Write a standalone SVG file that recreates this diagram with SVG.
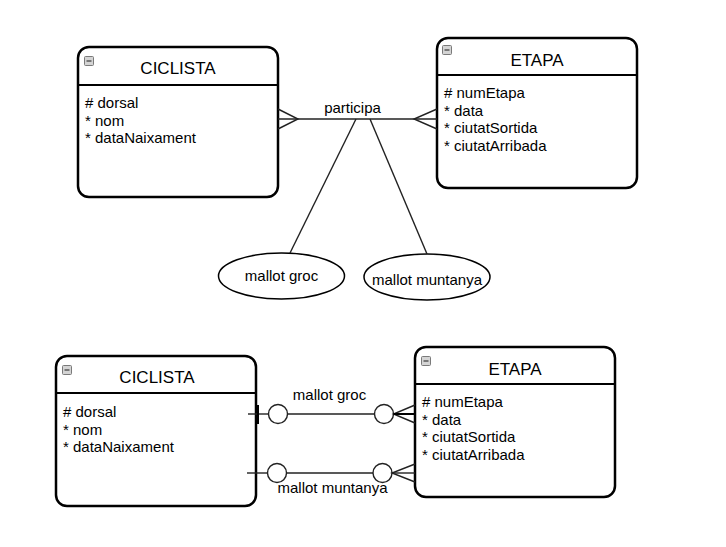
<svg xmlns="http://www.w3.org/2000/svg" width="726" height="547" viewBox="0 0 726 547">
<defs>
<style>
.box{fill:#fff;stroke:#000;stroke-width:2.5}
.hdr{stroke:#000;stroke-width:2}
.title{font-family:"Liberation Sans",Arial,sans-serif;font-size:17px;fill:#000;text-anchor:middle}
.attr{font-family:"Liberation Sans",Arial,sans-serif;font-size:15px;fill:#000}
.lbl{font-family:"Liberation Sans",Arial,sans-serif;font-size:15px;fill:#000;text-anchor:middle}
.ln{fill:none;stroke:#222;stroke-width:1.4}
.circ{fill:#fff;stroke:#222;stroke-width:1.4}
.ell{fill:#fff;stroke:#000;stroke-width:1.5}
.icon{fill:#d4d4d4;stroke:#7a7a7a;stroke-width:1}
.minus{stroke:#444;stroke-width:1.3}
</style>
<g id="mini">
<rect class="icon" x="0.5" y="0.5" width="9" height="9" rx="1"/>
<line class="minus" x1="2.5" y1="5" x2="7.5" y2="5"/>
</g>
</defs>

<g id="ciclista1">
<rect class="box" x="78" y="47" width="200" height="150" rx="11"/>
<line class="hdr" x1="78" y1="85" x2="278" y2="85"/>
<use href="#mini" x="84" y="56"/>
<text class="title" x="178" y="74">CICLISTA</text>
<text class="attr">
<tspan x="85" y="108"># dorsal</tspan>
<tspan x="85" y="125.5">* nom</tspan>
<tspan x="85" y="143">* dataNaixament</tspan>
</text>
</g>

<g id="etapa1">
<rect class="box" x="437" y="38" width="200" height="150" rx="11"/>
<line class="hdr" x1="437" y1="75" x2="637" y2="75"/>
<use href="#mini" x="442" y="45"/>
<text class="title" x="537" y="66">ETAPA</text>
<text class="attr">
<tspan x="444" y="98"># numEtapa</tspan>
<tspan x="444" y="115.5">* data</tspan>
<tspan x="444" y="133">* ciutatSortida</tspan>
<tspan x="444" y="150.5">* ciutatArribada</tspan>
</text>
</g>

<g id="mallotgroc">
<ellipse class="ell" cx="281.5" cy="276" rx="63" ry="23"/>
<text class="lbl" x="281.5" y="281">mallot groc</text>
</g>

<g id="mallotmuntanya">
<ellipse class="ell" cx="427" cy="277" rx="63" ry="23"/>
<text class="lbl" x="427" y="285">mallot muntanya</text>
</g>

<g id="ciclista2">
<rect class="box" x="56" y="356" width="200" height="150" rx="11"/>
<line class="hdr" x1="56" y1="393" x2="256" y2="393"/>
<use href="#mini" x="62" y="365"/>
<text class="title" x="157" y="383">CICLISTA</text>
<text class="attr">
<tspan x="63" y="417"># dorsal</tspan>
<tspan x="63" y="434.5">* nom</tspan>
<tspan x="63" y="452">* dataNaixament</tspan>
</text>
</g>

<g id="etapa2">
<rect class="box" x="415" y="347" width="200" height="150" rx="11"/>
<line class="hdr" x1="415" y1="384" x2="615" y2="384"/>
<use href="#mini" x="421" y="356"/>
<text class="title" x="515" y="374.5">ETAPA</text>
<text class="attr">
<tspan x="422" y="407"># numEtapa</tspan>
<tspan x="422" y="424.5">* data</tspan>
<tspan x="422" y="442">* ciutatSortida</tspan>
<tspan x="422" y="459.5">* ciutatArribada</tspan>
</text>
</g>

<g id="connectors">
<!-- top: participa -->
<line class="ln" x1="278" y1="119" x2="437" y2="119"/>
<polyline class="ln" points="278,109 298,119 278,129"/>
<polyline class="ln" points="437,109 414,119 437,129"/>
<line class="ln" x1="356" y1="119" x2="290" y2="253"/>
<line class="ln" x1="370" y1="119" x2="427" y2="254"/>
<!-- bottom: mallot groc -->
<line class="ln" x1="248" y1="414" x2="268.5" y2="414"/>
<line x1="258" y1="405" x2="258" y2="424" stroke="#000" stroke-width="2"/>
<circle class="circ" cx="278" cy="414" r="9.5"/>
<line class="ln" x1="287.5" y1="414" x2="374.5" y2="414"/>
<circle class="circ" cx="384" cy="414" r="9.5"/>
<polyline class="ln" points="415,405 393.5,414 415,423"/>
<line x1="393.5" y1="414" x2="415" y2="414" stroke="#000" stroke-width="2"/>
<!-- bottom: mallot muntanya -->
<line class="ln" x1="247" y1="473" x2="267.5" y2="473"/>
<circle class="circ" cx="277" cy="473" r="9.5"/>
<line class="ln" x1="286.5" y1="473" x2="373" y2="473"/>
<circle class="circ" cx="382.5" cy="473" r="9.5"/>
<polyline class="ln" points="415,464 392,473 415,482"/>
<line class="ln" x1="392" y1="473" x2="415" y2="473"/>
</g>

<g id="labels">
<text class="lbl" x="352.5" y="113">participa</text>
<text class="lbl" x="329.5" y="400">mallot groc</text>
<text class="lbl" x="332.5" y="493">mallot muntanya</text>
</g>
</svg>
